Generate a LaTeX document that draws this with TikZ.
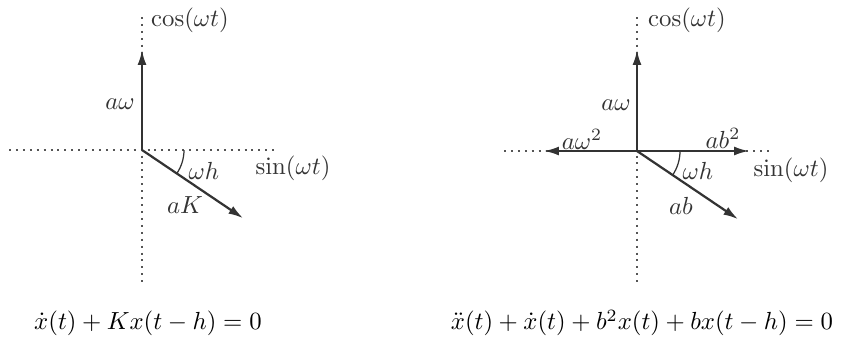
\documentclass[tikz,border=0pt]{standalone}
\usepackage{amsmath}
\usepackage{tikz}
\usetikzlibrary{arrows.meta,positioning,calc}
\definecolor{Lvec}{HTML}{333333}
\definecolor{Laxis}{HTML}{555555}

\begin{document}
\begin{tikzpicture}[
  x=0.0142cm, y=-0.0142cm, >={Latex[length=6pt,width=3.6pt]},
  axis/.style  ={draw=Laxis, line width=0.8pt, dotted},
  vec/.style   ={->, draw=Lvec, line width=0.9pt},
  arclab/.style={draw=Lvec, line width=0.5pt},
  vlab/.style  ={inner sep=1pt, text=black!80},
  eqlab/.style ={inner sep=1pt},
]
\useasboundingbox (0,0) rectangle (848,343);

% ── left panel: first order ──────────────────────────────────────────
\coordinate (oL) at (142,150);
\coordinate (lW) at ($(oL)+(-133,0)$);
\coordinate (lE) at ($(oL)+(133,0)$);
\coordinate (lN) at ($(oL)+(0,-133)$);
\coordinate (lS) at ($(oL)+(0,133)$);
\coordinate (lUp) at ($(oL)+(0,-100)$);
\coordinate (lDel) at ($(oL)+(34:122)$);

\draw[axis] (lW) -- (lE);
\draw[axis] (lN) -- (lS);
\draw[vec] (oL) -- (lUp);
\draw[vec] (oL) -- (lDel);
\draw[arclab] ($(oL)+(42,0)$) arc[start angle=0, end angle=34, radius=42];

\node[vlab] (lcos) at (190,20) {$\cos(\omega t)$};
\node[vlab] (lsin) at (293,168) {$\sin(\omega t)$};
\node[vlab] (law)  at (120,104) {$a\omega$};
\node[vlab] (lwh)  at (204,171) {$\omega h$};
\node[vlab] (laK)  at (185,205) {$aK$};
\node[eqlab] (leq) at (148,323) {$\dot{x}(t) + Kx(t-h) = 0$};

% ── right panel: second order ────────────────────────────────────────
\coordinate (oR) at (637,151);
\coordinate (rW) at ($(oR)+(-133,0)$);
\coordinate (rE) at ($(oR)+(134,0)$);
\coordinate (rN) at ($(oR)+(0,-134)$);
\coordinate (rS) at ($(oR)+(0,132)$);
\coordinate (rUp) at ($(oR)+(0,-101)$);
\coordinate (rLt) at ($(oR)+(-93,0)$);
\coordinate (rRt) at ($(oR)+(112,0)$);
\coordinate (rDel) at ($(oR)+(34:122)$);

\draw[axis] (rW) -- (rE);
\draw[axis] (rN) -- (rS);
\draw[vec] (oR) -- (rUp);
\draw[vec] (oR) -- (rLt);
\draw[vec] (oR) -- (rRt);
\draw[vec] (oR) -- (rDel);
\draw[arclab] ($(oR)+(43,0)$) arc[start angle=0, end angle=34, radius=43];

\node[vlab] (rcos) at (687,20) {$\cos(\omega t)$};
\node[vlab] (rsin) at (791,170) {$\sin(\omega t)$};
\node[vlab] (raw)  at (616,105) {$a\omega$};
\node[vlab] (raw2) at (582,139) {$a\omega^2$};
\node[vlab] (rab2) at (723,138) {$ab^2$};
\node[vlab] (rwh)  at (698,171) {$\omega h$};
\node[vlab] (rab)  at (681,206) {$ab$};
\node[eqlab] (req) at (642,323) {$\ddot{x}(t) + \dot{x}(t) + b^2x(t) + bx(t-h) = 0$};

\end{tikzpicture}
\end{document}
